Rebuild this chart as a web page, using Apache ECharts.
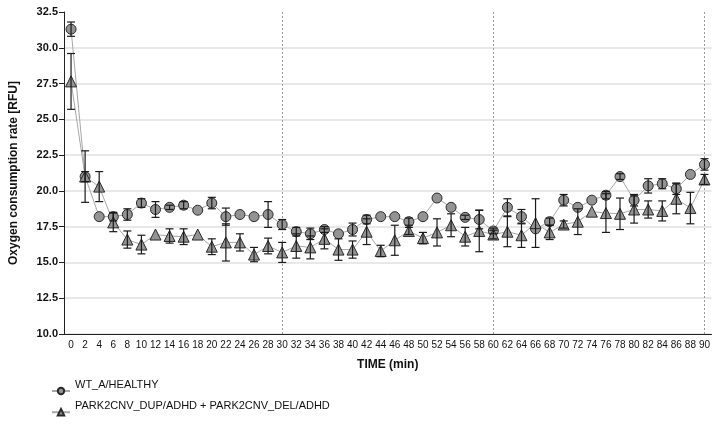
<!DOCTYPE html>
<html><head><meta charset="utf-8">
<script src="https://cdn.jsdelivr.net/npm/echarts@6/dist/echarts.min.js"></script>
<style>html,body{margin:0;padding:0;background:#fff}#c{width:713px;height:444px}</style>
</head><body><div id="c"></div>
<script>
var times = [0,2,4,6,8,10,12,14,16,18,20,22,24,26,28,30,32,34,36,38,40,42,44,46,48,50,52,54,56,58,60,62,64,66,68,70,72,74,76,78,80,82,84,86,88,90];
var wtMean = [31.3,21.0,18.2,18.2,18.35,19.15,18.7,18.85,19.0,18.65,19.15,18.2,18.35,18.2,18.35,17.65,17.15,17.0,17.3,17.0,17.3,18.0,18.2,18.2,17.85,18.2,19.5,18.85,18.15,18.0,17.2,18.85,18.2,17.35,17.85,19.35,18.85,19.35,19.7,21.0,19.35,20.35,20.5,20.15,21.15,21.85];
var wtErr = [0.5,0.35,0,0.3,0.4,0.3,0.55,0.15,0.25,0,0.4,0.6,0,0,0.9,0.35,0.3,0.4,0.2,0,0.45,0.3,0,0,0.25,0,0,0,0.15,0.65,0.2,0.6,0.5,0,0.25,0.4,0,0,0.25,0.2,0.4,0.5,0.35,0.4,0,0.4];
var adhdMean = [27.65,21.0,20.3,17.8,16.6,16.25,16.95,16.85,16.8,16.95,16.1,16.4,16.4,15.55,16.15,15.7,16.15,16.05,16.65,15.9,15.9,17.15,15.8,16.55,17.2,16.7,17.1,17.6,16.8,17.2,16.95,17.15,16.9,17.75,17.1,17.65,17.85,18.55,18.45,18.4,18.7,18.7,18.6,19.45,18.8,20.8];
var adhdErr = [1.95,1.8,1.05,0.65,0.6,0.65,0,0.5,0.55,0,0.55,1.3,0.6,0.5,0.55,0.7,0.85,0.8,0.7,0.75,0.6,0.9,0.4,1.05,0.25,0.4,0.95,0.8,0.65,1.45,0.3,1.05,0.85,1.7,0.5,0.25,0.9,0,1.35,1.1,0.95,0.6,0.7,1.05,1.1,0.35];
var yTicks = [10,12.5,15,17.5,20,22.5,25,27.5,30,32.5];
var seriesNames = ['WT_A/HEALTHY','PARK2CNV_DUP/ADHD + PARK2CNV_DEL/ADHD'];
var markerLines = [30,60,90];

var cats = times.map(String);
function errData(mean, err){
  return times.map(function(t,i){ return [i, mean[i]-err[i], mean[i]+err[i], err[i]]; });
}
function renderErr(params, api){
  if (api.value(3) === 0) return null;
  var lo = api.coord([api.value(0), api.value(1)]);
  var hi = api.coord([api.value(0), api.value(2)]);
  var w = 4;
  var st = {stroke:'#1a1a1a', lineWidth:1.2};
  return {type:'group', children:[
    {type:'line', shape:{x1:lo[0],y1:lo[1],x2:hi[0],y2:hi[1]}, style:st},
    {type:'line', shape:{x1:lo[0]-w,y1:lo[1],x2:lo[0]+w,y2:lo[1]}, style:st},
    {type:'line', shape:{x1:hi[0]-w,y1:hi[1],x2:hi[0]+w,y2:hi[1]}, style:st}
  ]};
}
var chart = echarts.init(document.getElementById('c'), null, {renderer:'canvas'});
var markerStyle = {color:'#939393', borderColor:'#2a2a2a', borderWidth:1};
chart.setOption({
  animation:false,
  backgroundColor:'#fff',
  grid:{left:62, top:12, width:650, bottom:110, containLabel:false},
  xAxis:{
    type:'category', data:cats, boundaryGap:true,
    name:'TIME (min)', nameLocation:'middle', nameGap:25,
    nameTextStyle:{fontFamily:'Liberation Sans, Arial, sans-serif', fontWeight:'bold', fontSize:12, color:'#111'},
    axisLine:{lineStyle:{color:'#222', width:1}},
    axisTick:{alignWithLabel:true, length:5, lineStyle:{color:'#222'}},
    axisLabel:{interval:0, margin:6, fontFamily:'Liberation Sans Narrow, Liberation Sans, Arial, sans-serif', fontSize:10, color:'#111'},
    splitLine:{show:false}
  },
  yAxis:{
    type:'value', min:10, max:32.5, interval:2.5,
    name:'Oxygen consumption rate [RFU]', nameLocation:'middle', nameGap:44, nameRotate:90,
    nameTextStyle:{fontFamily:'Liberation Sans, Arial, sans-serif', fontWeight:'bold', fontSize:12, color:'#111'},
    axisLine:{show:true, lineStyle:{color:'#222', width:1}},
    axisTick:{show:true, length:5, lineStyle:{color:'#222'}},
    axisLabel:{margin:6, fontFamily:'Liberation Sans, Arial, sans-serif', fontWeight:'bold', fontSize:11, color:'#111',
      formatter:function(v){ return yTicks.indexOf(v)>=0 ? v.toFixed(1) : ''; }},
    splitLine:{show:true, showMaxLine:false, lineStyle:{color:'#e0e0e0', width:1.5}}
  },
  legend:{
    orient:'vertical', left:46, top:374, itemGap:5, itemWidth:18, itemHeight:8,
    data:seriesNames,
    formatter:function(n){ return '{t|' + n + '}'; },
    textStyle:{fontFamily:'Liberation Sans, Arial, sans-serif', fontSize:11, color:'#111',
      rich:{t:{fontFamily:'Liberation Sans, Arial, sans-serif', fontSize:11, color:'#111', padding:[0,0,13,0]}}}
  },
  series:[
    {name:seriesNames[0], type:'line', data:wtMean, symbol:'circle', symbolSize:10,
     lineStyle:{color:'#a8a8a8', width:1}, itemStyle:markerStyle, z:3,
     markLine:{silent:true, symbol:'none', label:{show:false},
       lineStyle:{color:'#9a9a9a', type:[2,2], width:1},
       data:markerLines.map(function(m){return {xAxis:String(m)};})}},
    {name:seriesNames[1], type:'line', data:adhdMean, symbol:'triangle', symbolSize:11,
     lineStyle:{color:'#a8a8a8', width:1}, itemStyle:markerStyle, z:3},
    {type:'custom', renderItem:renderErr, data:errData(wtMean, wtErr), z:5, encode:{x:0,y:[1,2]}},
    {type:'custom', renderItem:renderErr, data:errData(adhdMean, adhdErr), z:5, encode:{x:0,y:[1,2]}}
  ]
});
</script></body></html>
